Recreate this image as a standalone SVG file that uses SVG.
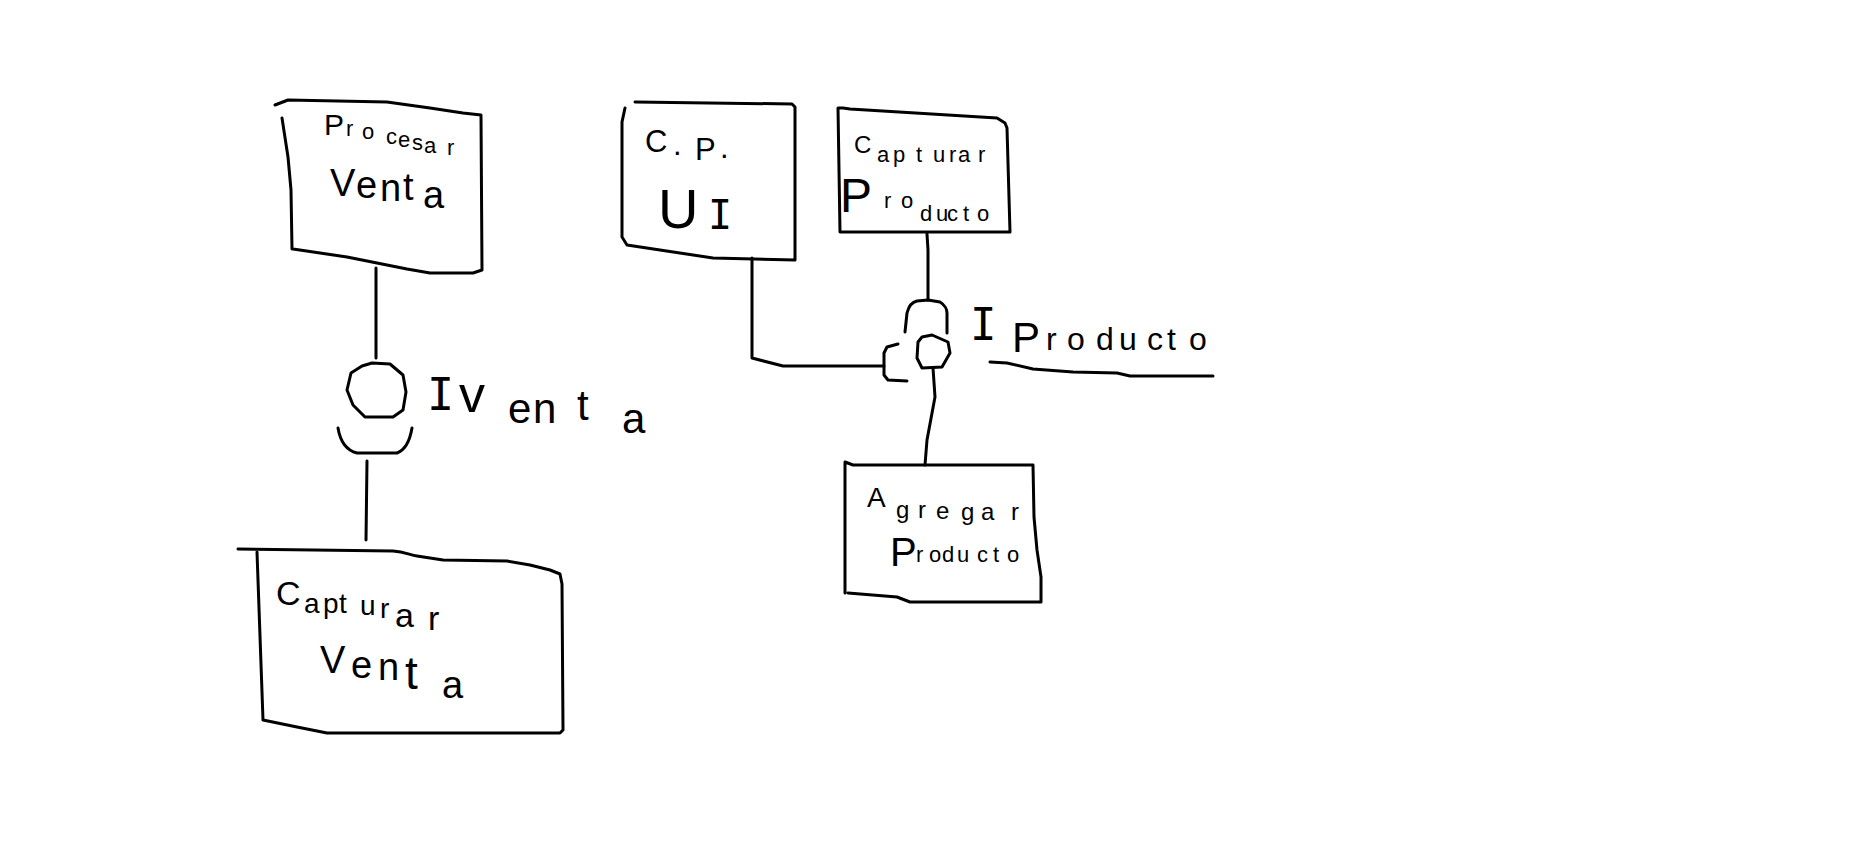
<svg xmlns="http://www.w3.org/2000/svg" width="1875" height="858" viewBox="0 0 1875 858">
<style>
.s{fill:none;stroke:#000;stroke-width:3;stroke-linecap:round;stroke-linejoin:round}
.t{font-family:"Liberation Sans",Arial,sans-serif;fill:#000}
.m{font-family:"DejaVu Sans Mono","Liberation Mono",monospace;fill:#000}
</style>
<rect width="1875" height="858" fill="#fff"/>
<g id="connectors">
<path class="s" d="M376,268 L376,358"/>
<path class="s" d="M367,461 L366,540"/>
<path class="s" d="M752,258 L752,358 L783,366 L884,366"/>
<path class="s" d="M927,234 L928,250 L928,300"/>
<path class="s" d="M933,368 L935,397 L927,440 L925,465"/>
</g>
<g id="node-procesar-venta">
<path class="s" d="M275,105 L288,100 L387,102 L430,108 L463,113 L481,115 L482,270 L473,273 L430,273 L407,269 L347,257 L293,249 M282,118 L288,157 L291,190 L292,249"/>
<text class="t"><tspan font-size="30" x="324" y="135">P</tspan><tspan font-size="22" x="346 362 386 398 412 424 447" y="136 139 144 147 150 153 155">rocesar</tspan></text>
<text class="t" font-size="38" x="330 356 380 403 423" y="196 198 201 200 208">Venta</text>
</g>
<g id="interface-iventa">
<path class="s" d="M372,363 L390,364 L403,375 L406,392 L403,410 L393,417 L365,417 L353,405 L347,390 L351,373 L362,366 Z"/>
<path class="s" d="M338,428 C340,440 345,450 357,453 L397,453 C405,450 410,440 412,428"/>
<text class="m" font-size="45" x="427" y="410">I</text>
<text class="t"><tspan font-size="52" x="459" y="412">v</tspan><tspan font-size="42" x="508 533 577 622" y="423 423 420 433">enta</tspan></text>
</g>
<g id="node-capturar-venta">
<path class="s" d="M238,549 L393,551 C405,552 410,555 417,556 L443,560 L507,561 L530,565 L550,570 L560,574 L562,584 L563,730 L560,733 L327,733 L297,727 L263,720 M257,552 L263,720"/>
<text class="t"><tspan font-size="34" x="276" y="605">C</tspan><tspan font-size="28" x="304 323 339 360 380" y="613 613 613 615 618">aptur</tspan><tspan font-size="34" x="395 428" y="627 630">ar</tspan></text>
<text class="t"><tspan font-size="38" x="320 351 378" y="673 678 680">Ven</tspan><tspan font-size="46" x="405" y="689">t</tspan><tspan font-size="38" x="442" y="698">a</tspan></text>
</g>
<g id="node-cp-ui">
<path class="s" d="M635,102 L792,104 L795,107 L795,260 L713,258 L660,250 L627,245 L622,237 L622,122 L625,108"/>
<text class="t" font-size="31" x="645 673 695 720" y="152 155 160 158">C.P.</text>
<text class="t" font-size="56" x="658" y="228">U</text>
<text class="m" font-size="40" x="708" y="229">I</text>
</g>
<g id="node-capturar-producto">
<path class="s" d="M838,108 L843,108 L850,109 L997,118 L1005,123 L1007,128 L1010,232 L840,232 L838,108"/>
<text class="t"><tspan font-size="24" x="854" y="153">C</tspan><tspan font-size="22" x="877 893 916 933 949 958 978" y="162 162 162 162 162 162 162">apturar</tspan></text>
<text class="t"><tspan font-size="48" x="840" y="212">P</tspan><tspan font-size="22" x="884 901 920 936 947 963 977" y="208 208 221 221 221 221 221">roducto</tspan></text>
</g>
<g id="interface-iproducto">
<path class="s" d="M922,337 L932,335 L948,342 L950,353 L942,367 L922,368 L917,358 L918,342 Z"/>
<path class="s" d="M905,332 L907,313 C909,305 912,302 917,301 L928,300 L940,302 C945,305 947,310 947,313 L947,333"/>
<path class="s" d="M898,344 L887,347 L884,353 L884,375 L888,380 L907,381"/>
<text class="m" font-size="44" x="970" y="340">I</text>
<text class="t"><tspan font-size="42" x="1012" y="352">P</tspan><tspan font-size="32" x="1046 1067 1096 1119 1147 1167 1189" y="350 350 350 350 350 350 350">roducto</tspan></text>
<path class="s" d="M990,362 L1007,363 L1033,369 L1073,372 L1117,373 L1130,376 L1213,376"/>
</g>
<g id="node-agregar-producto">
<path class="s" d="M845,462 L853,465 L1033,465 L1034,517 L1037,550 L1041,577 L1041,602 L910,602 L897,597 L848,593 M845,462 L845,593"/>
<text class="t"><tspan font-size="28" x="867" y="507">A</tspan><tspan font-size="24" x="896 918 936 961 981 1011" y="518 518 519 520 520 520">gregar</tspan></text>
<text class="t"><tspan font-size="40" x="890" y="566">P</tspan><tspan font-size="22" x="916 929 942 957 977 993 1007" y="562 562 562 562 562 562 562">roducto</tspan></text>
</g>
</svg>
